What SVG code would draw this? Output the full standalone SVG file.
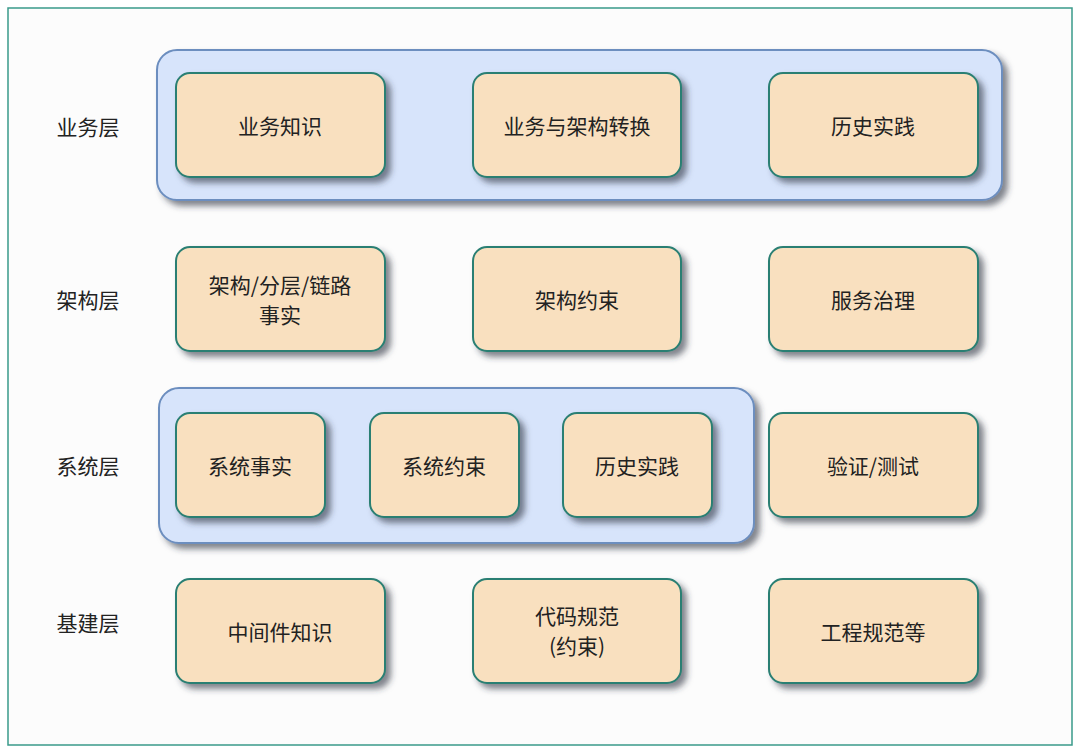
<svg xmlns="http://www.w3.org/2000/svg" width="1080" height="753" viewBox="0 0 1080 753">
<defs>
<filter id="sh" x="-10%" y="-10%" width="130%" height="140%"><feDropShadow dx="5" dy="5" stdDeviation="3" flood-color="#2a3440" flood-opacity="0.6"/></filter>
<style>
.grp{fill:#d7e4fb;stroke:#6c8ebf;stroke-width:2}
.n rect{fill:#f9e0bf;stroke:#2a7f73;stroke-width:2}
text{font-family:"Noto Sans CJK SC","Noto Sans",sans-serif;font-size:21px;fill:#222;text-anchor:middle;dominant-baseline:central}
</style>
</defs>
<rect x="8" y="8" width="1064" height="737" fill="#fcfcfc" stroke="#3a9a8a" stroke-width="1.5"/>
<g id="labels">
<text x="88" y="126">业务层</text><text x="88" y="299">架构层</text><text x="88" y="465">系统层</text><text x="88" y="622">基建层</text>
</g>
<g id="connectors"/>
<rect id="group-business" class="grp" x="157" y="50" width="845" height="150" rx="20" filter="url(#sh)"/>
<rect id="group-system" class="grp" x="159" y="388" width="595" height="155" rx="20" filter="url(#sh)"/>
<g id="n1" class="n"><rect x="176" y="73" width="209" height="104" rx="14" filter="url(#sh)"/><text x="280" y="125">业务知识</text></g>
<g id="n2" class="n"><rect x="473" y="73" width="208" height="104" rx="14" filter="url(#sh)"/><text x="577" y="125">业务与架构转换</text></g>
<g id="n3" class="n"><rect x="769" y="73" width="209" height="104" rx="14" filter="url(#sh)"/><text x="873" y="125">历史实践</text></g>
<g id="n4" class="n"><rect x="176" y="247" width="209" height="104" rx="14" filter="url(#sh)"/><text x="280" y="284">架构/分层/链路</text><text x="280" y="314">事实</text></g>
<g id="n5" class="n"><rect x="473" y="247" width="208" height="104" rx="14" filter="url(#sh)"/><text x="577" y="299">架构约束</text></g>
<g id="n6" class="n"><rect x="769" y="247" width="209" height="104" rx="14" filter="url(#sh)"/><text x="873" y="299">服务治理</text></g>
<g id="n7" class="n"><rect x="176" y="413" width="149" height="104" rx="14" filter="url(#sh)"/><text x="250" y="465">系统事实</text></g>
<g id="n8" class="n"><rect x="370" y="413" width="149" height="104" rx="14" filter="url(#sh)"/><text x="444" y="465">系统约束</text></g>
<g id="n9" class="n"><rect x="563" y="413" width="149" height="104" rx="14" filter="url(#sh)"/><text x="637" y="465">历史实践</text></g>
<g id="n10" class="n"><rect x="769" y="413" width="209" height="104" rx="14" filter="url(#sh)"/><text x="873" y="465">验证/测试</text></g>
<g id="n11" class="n"><rect x="176" y="579" width="209" height="104" rx="14" filter="url(#sh)"/><text x="280" y="631">中间件知识</text></g>
<g id="n12" class="n"><rect x="473" y="579" width="208" height="104" rx="14" filter="url(#sh)"/><text x="577" y="615">代码规范</text><text x="577" y="645">(约束)</text></g>
<g id="n13" class="n"><rect x="769" y="579" width="209" height="104" rx="14" filter="url(#sh)"/><text x="873" y="631">工程规范等</text></g>
</svg>
